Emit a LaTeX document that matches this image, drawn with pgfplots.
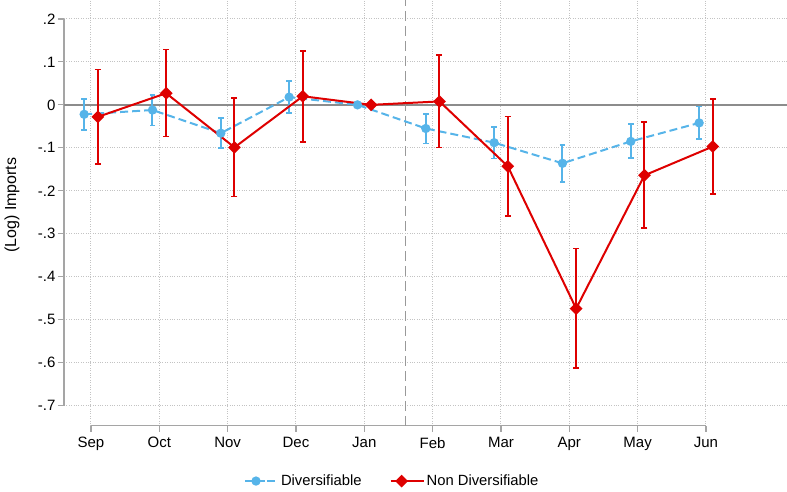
\documentclass[border=0pt]{standalone}
\usepackage{fontspec}
\setmainfont{Liberation Sans}
\usepackage{pgfplots}
\usepackage{pgfplotstable}
\pgfplotsset{compat=1.18}

\definecolor{sky}{RGB}{86,180,233}
\definecolor{stred}{RGB}{222,0,0}
\definecolor{axgray}{RGB}{165,165,165}
\definecolor{gridgray}{RGB}{195,195,195}

% month index, shifted -0.1 / +0.1 as in the original
\pgfplotstableread{
x     y       ep     em
-0.1  -0.022  0.035  0.037
0.9   -0.012  0.035  0.036
1.9   -0.066  0.035  0.034
2.9    0.018  0.037  0.037
3.9    0.000  0.000  0.000
4.9   -0.055  0.034  0.035
5.9   -0.088  0.036  0.037
6.9   -0.136  0.042  0.043
7.9   -0.085  0.040  0.038
8.9   -0.042  0.038  0.037
}\tabdiv

\pgfplotstableread{
x     y       ep     em
0.1   -0.028  0.110  0.109
1.1    0.027  0.102  0.101
2.1   -0.099  0.115  0.114
3.1    0.020  0.105  0.106
4.1    0.000  0.000  0.000
5.1    0.008  0.108  0.107
6.1   -0.143  0.116  0.116
7.1   -0.474  0.140  0.139
8.1   -0.164  0.124  0.123
9.1   -0.097  0.111  0.111
}\tabnon

\begin{document}
\begin{tikzpicture}
\begin{axis}[
    name=ax,
    scale only axis,
    width=723pt, height=425.7pt,
    xmin=-0.395, xmax=10.186,
    ymin=-0.7466, ymax=0.244,
    xtick={0,1,...,9},
    xticklabels={Sep,Oct,Nov,Dec,Jan,Feb,Mar,Apr,May,Jun},
    ytick={-0.7,-0.6,-0.5,-0.4,-0.3,-0.2,-0.1,0,0.1,0.2},
    yticklabels={-.7,-.6,-.5,-.4,-.3,-.2,-.1,0,.1,.2},
    xtick pos=bottom, ytick pos=left,
    tick align=outside,
    major tick length=6pt,
    tick style={axgray, line width=1.2pt},
    axis line style={draw=none},
    grid=major,
    major grid style={gridgray, dotted, line width=1pt},
    tick label style={font=\fontsize{15}{17}\selectfont},
    xticklabel style={yshift=-2pt},
    yticklabel style={xshift=1pt},
    ylabel={(Log) Imports},
    every axis y label/.style={at={(axis description cs:0,0.518)}, rotate=90, anchor=center,
        yshift=52pt, font=\fontsize{16}{18}\selectfont},
    legend columns=2,
    legend style={at={(axis description cs:0.454,-0.130)}, anchor=center, draw=none, fill=none,
        font=\fontsize{14.8}{17}\selectfont,
        /tikz/every even column/.append style={column sep=26pt}},
    legend image code/.code={\draw[mark repeat=2,mark phase=2,#1] plot coordinates {(0pt,0pt) (11pt,0pt) (22pt,0pt)};
        \path (22pt,0pt) -- (33pt,0pt);},
    clip=false,
]
% axis lines, zero line and break line
\draw[axgray, line width=1.2pt] (axis cs:0,-0.7466) -- (axis cs:9,-0.7466);
\draw[axgray, line width=1.2pt] (axis cs:-0.395,-0.7) -- (axis cs:-0.395,0.2);
\draw[gray!90, line width=1.5pt] (axis cs:-0.395,0) -- (axis cs:10.186,0);
\draw[gray!80, line width=1.5pt, dash pattern=on 10pt off 5pt] (axis cs:4.606,-0.7466) -- (axis cs:4.606,0.244);

\addplot[sky, line width=2pt, dash pattern=on 8pt off 4pt, mark=*, mark size=3.6pt, mark options={solid},
    error bars/.cd, y dir=both, y explicit,
    error bar style={solid, line width=2pt},
    error mark options={rotate=90, mark size=2.8pt, line width=1.6pt, solid}]
    table[x=x, y=y, y error plus=ep, y error minus=em]{\tabdiv};
\addlegendentry{Diversifiable}

\addplot[stred, line width=2pt, mark=square*, mark size=3.5pt, mark options={solid, rotate=45},
    error bars/.cd, y dir=both, y explicit,
    error bar style={solid, line width=2pt},
    error mark options={rotate=90, mark size=3pt, line width=1.6pt, solid}]
    table[x=x, y=y, y error plus=ep, y error minus=em]{\tabnon};
\addlegendentry{Non Diversifiable}
\end{axis}
\pgfresetboundingbox
\path[use as bounding box] (ax.south west) ++(-64pt,-65.3pt) rectangle ++(787pt,491pt);
\end{tikzpicture}
\end{document}
